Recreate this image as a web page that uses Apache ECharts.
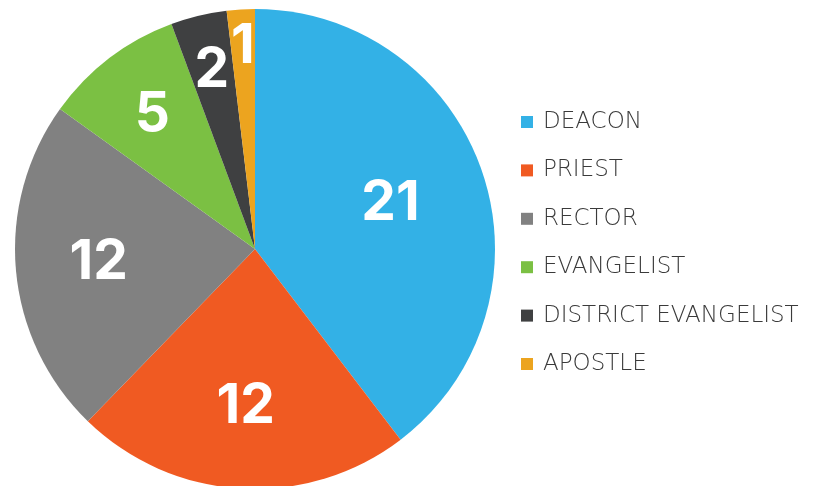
<!DOCTYPE html>
<html><head><meta charset="utf-8">
<script src="https://cdn.jsdelivr.net/npm/echarts@6/dist/echarts.min.js"></script>
<style>html,body{margin:0;padding:0;background:#fff}#c{width:815px;height:486px}</style>
</head><body><div id="c"></div>
<script>
const categories = ['DEACON', 'PRIEST', 'RECTOR', 'EVANGELIST', 'DISTRICT EVANGELIST', 'APOSTLE'];
const counts = [21, 12, 12, 5, 2, 1];
const colors = ['#33b1e6', '#f05a22', '#818181', '#7bc043', '#3f4041', '#eca41f'];

// inner radius of each helper ring so its label sits where the reference's label sits
const labelInner = [40, 70, 68, 92, 122, 160];
const R = 240, CENTER = [255, 249];

const chart = echarts.init(document.getElementById('c'), null, {renderer: 'canvas'});
const mainData = categories.map((n, i) => ({name: n, value: counts[i], itemStyle: {color: colors[i]}}));

const series = [{
  type: 'pie', center: CENTER, radius: [0, R], startAngle: 90, clockwise: true,
  data: mainData, label: {show: false}, labelLine: {show: false}, silent: true
}];
labelInner.forEach((r0, k) => {
  series.push({
    type: 'pie', center: CENTER, radius: [r0, R], startAngle: 90, clockwise: true,
    silent: true, avoidLabelOverlap: false,
    itemStyle: {color: 'rgba(0,0,0,0)'},
    labelLayout: {hideOverlap: false},
    data: counts.map((v, i) => ({name: 'lbl' + k + '_' + i, value: v,
      label: {show: i === k}})),
    label: {position: 'inside', formatter: '{c}', color: '#fff',
      fontFamily: 'Inter', fontWeight: 'bold', fontSize: 55},
    labelLine: {show: false}
  });
});

chart.setOption({
  animation: false,
  legend: {
    orient: 'vertical', left: 516, top: 105,
    data: categories,
    icon: 'rect', itemWidth: 12, itemHeight: 12, itemGap: 24.4,
    textStyle: {fontFamily: 'DejaVu Sans', fontWeight: 200, fontSize: 23, color: '#3a3a3a', lineHeight: 24, padding: [0,0,0,5]}
  },
  series: series
});
</script></body></html>
